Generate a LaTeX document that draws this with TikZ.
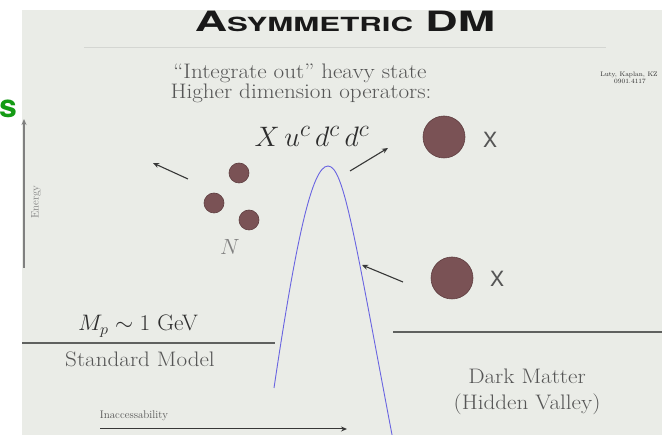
\documentclass[tikz,border=0pt]{standalone}
\usepackage{fontspec}
\newfontfamily\heros{TeX Gyre Heros}
\usetikzlibrary{arrows.meta}
\definecolor{slide}{RGB}{234,236,231}
\definecolor{txtgray}{RGB}{85,85,85}
\definecolor{darktxt}{RGB}{45,45,45}
\definecolor{ballc}{RGB}{122,82,85}
\definecolor{balld}{RGB}{95,62,65}
\definecolor{arrgray}{RGB}{55,55,55}
\definecolor{linegray}{RGB}{95,97,95}
\definecolor{curveblue}{RGB}{105,100,225}
\definecolor{sgreen}{RGB}{20,155,20}
\definecolor{rulegray}{RGB}{212,214,210}
\newcommand{\wide}[1]{\scalebox{1.1}[1]{#1}}
\tikzset{
  body/.style={inner sep=0pt, text=txtgray, font=\fontsize{21}{24}\selectfont, anchor=base},
  ball/.style={circle, fill=ballc, draw=balld, line width=0.6pt, inner sep=0pt},
  smallball/.style={ball, minimum size=20pt},
  bigball/.style={ball, minimum size=42pt},
  xlabel/.style={inner sep=0pt, text=txtgray, font=\heros\fontsize{21}{24}\selectfont},
  arr/.style={draw=arrgray, line width=1.1pt, -{Stealth[length=6pt,width=5pt]}},
  level/.style={draw=linegray, line width=2.4pt},
}
\begin{document}
\begin{tikzpicture}[x=1pt,y=-1pt]
\useasboundingbox (0,0) rectangle (662,435);
\fill[white] (0,0) rectangle (662,435);
\fill[slide] (22,10) rectangle (662,435);
% title
\draw[rulegray, line width=1pt] (84,48) -- (606,48);
\node[inner sep=0pt, anchor=base, text=black!90] (title) at (345,32)
  {\heros\bfseries\scalebox{1.6}[1]{\fontsize{28}{30}\selectfont A\fontsize{19.5}{22}\selectfont SYMMETRIC\fontsize{28}{30}\selectfont{} DM}};
% green s
\node[inner sep=0pt, text=sgreen, font=\heros\bfseries\fontsize{32}{34}\selectfont] (gs) at (8,109) {s};
% reference
\node[inner sep=0pt, text=darktxt, font=\fontsize{6.5}{7}\selectfont, anchor=base] (ref1) at (629,77) {Luty, Kaplan, KZ};
\node[inner sep=0pt, text=darktxt, font=\fontsize{6.5}{7}\selectfont, anchor=base] (ref2) at (630,84) {0901.4117};
% subtitle
\node[body] (l1) at (300,79) {\wide{“Integrate out” heavy state}};
\node[body] (l2) at (301,99) {\wide{Higher dimension operators:}};
\node[inner sep=0pt, anchor=base, text=darktxt, font=\fontsize{24.88}{28}\selectfont] (op) at (312,147) {\scalebox{1.13}{$X\,u^c\,d^c\,d^c$}};
% energy axis
\coordinate (e0) at (24,268);
\coordinate (e1) at (24,119);
\draw[draw=gray, line width=1.5pt, -{Stealth[length=6pt,width=5pt]}] (e0) -- (e1);
\node[inner sep=0pt, text=gray, rotate=90, font=\fontsize{11}{12}\selectfont] (en) at (36,202) {Energy};
% N cluster
\node[smallball] (n1) at (239,173) {};
\node[smallball] (n2) at (214,203) {};
\node[smallball] (n3) at (249,220) {};
\node[inner sep=0pt, text=gray, font=\fontsize{20.74}{24}\selectfont] (nl) at (230,247) {\scalebox{1.06}{$N$}};
% X balls
\node[bigball] (x1) at (444,137) {};
\node[xlabel] (x1l) at (490,140) {X};
\node[bigball] (x2) at (452,278) {};
\node[xlabel] (x2l) at (497,279) {X};
% arrows
\coordinate (a1s) at (188,179); \coordinate (a1e) at (153,163);
\coordinate (a2s) at (350,171); \coordinate (a2e) at (388,148);
\coordinate (a3s) at (403,282); \coordinate (a3e) at (362,265);
\draw[arr] (a1s) -- (a1e);
\draw[arr] (a2s) -- (a2e);
\draw[arr] (a3s) -- (a3e);
% barrier curve
\coordinate (cL) at (274,388);
\coordinate (cT) at (328,166);
\coordinate (cR) at (393,440);
\begin{scope}
\clip (0,0) rectangle (662,435);
\draw[curveblue, line width=0.9pt] (cL) .. controls (296,240) and (312,166) .. (cT)
  .. controls (344,166) and (355,240) .. (cR);
\end{scope}
% levels
\coordinate (sm0) at (22,343); \coordinate (sm1) at (275,343);
\coordinate (dm0) at (393,332); \coordinate (dm1) at (662,332);
\draw[level] (sm0) -- (sm1);
\draw[level] (dm0) -- (dm1);
\node[inner sep=0pt, anchor=base, text=darktxt, font=\fontsize{20.74}{24}\selectfont] (mp) at (138,331) {\scalebox{1.12}[1.08]{$M_p \sim 1$ GeV}};
\node[body] (sm) at (140,367) {\wide{Standard Model}};
\node[body] (dm) at (527,384) {\wide{Dark Matter}};
\node[body] (hv) at (527,410) {\wide{(Hidden Valley)}};
% inaccessibility
\node[inner sep=0pt, anchor=base, text=txtgray, font=\fontsize{11}{12}\selectfont] (inacc) at (134,419) {Inaccessability};
\coordinate (i0) at (100,429); \coordinate (i1) at (347,429);
\draw[arr, line width=1pt] (i0) -- (i1);
\end{tikzpicture}
\end{document}
